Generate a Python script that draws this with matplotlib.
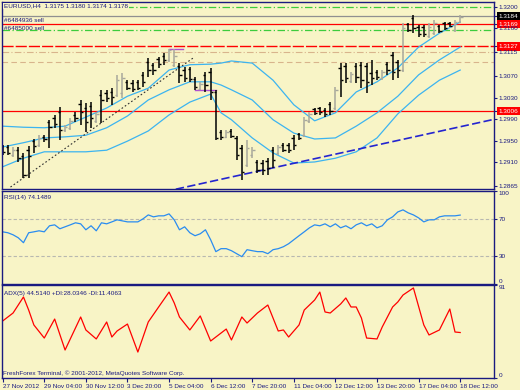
import matplotlib
matplotlib.use("Agg")
import matplotlib.pyplot as plt
import numpy as np

# EURUSD H4, bars from 27 Nov 2012 20:00 to 18 Dec 2012 12:00
opens = [1.2940, 1.2938, 1.2923, 1.2932, 1.2921, 1.2932, 1.2949, 1.2942, 1.2957, 1.2985,
         1.2992, 1.3004, 1.2970, 1.2974, 1.2998, 1.3018, 1.3011, 1.3015, 1.2987, 1.3035,
         1.3039, 1.3041, 1.3035, 1.3039, 1.3060, 1.3058, 1.3060, 1.3073, 1.3097, 1.3092,
         1.3103, 1.3108, 1.3101, 1.3092, 1.3090, 1.3082, 1.3084, 1.3065, 1.3047, 1.3073,
         1.3078, 1.3041, 1.2966, 1.2957, 1.2968, 1.2955, 1.2936, 1.2904, 1.2923, 1.2910,
         1.2908, 1.2912, 1.2932, 1.2927, 1.2942, 1.2942, 1.2955, 1.2962, 1.2960, 1.2987,
         1.3009, 1.3011, 1.3007, 1.3018, 1.3011, 1.3086, 1.3090, 1.3062, 1.3090, 1.3092,
         1.3090, 1.3077, 1.3078, 1.3067, 1.3093, 1.3110, 1.3097, 1.3082, 1.3168, 1.3179,
         1.3163, 1.3163, 1.3146, 1.3151, 1.3164, 1.3170, 1.3170, 1.3157, 1.3172]
highs = [1.2942, 1.2942, 1.2938, 1.2938, 1.2927, 1.2940, 1.2953, 1.2960, 1.2960, 1.2989,
         1.2998, 1.3013, 1.2979, 1.2992, 1.3004, 1.3026, 1.3020, 1.3022, 1.3004, 1.3045,
         1.3045, 1.3048, 1.3073, 1.3077, 1.3063, 1.3063, 1.3063, 1.3078, 1.3105, 1.3095,
         1.3106, 1.3114, 1.3121, 1.3121, 1.3095, 1.3088, 1.3088, 1.3069, 1.3060, 1.3078,
         1.3086, 1.3045, 1.2970, 1.2970, 1.2972, 1.2959, 1.2942, 1.2951, 1.2938, 1.2914,
         1.2914, 1.2917, 1.2938, 1.2942, 1.2946, 1.2946, 1.2960, 1.2964, 1.2994, 1.3004,
         1.3011, 1.3013, 1.3011, 1.3022, 1.3050, 1.3095, 1.3095, 1.3078, 1.3095, 1.3097,
         1.3095, 1.3101, 1.3082, 1.3082, 1.3097, 1.3116, 1.3101, 1.3170, 1.3170, 1.3185,
         1.3166, 1.3166, 1.3170, 1.3176, 1.3166, 1.3172, 1.3172, 1.3176, 1.3185]
lows = [1.2923, 1.2923, 1.2919, 1.2910, 1.2880, 1.2880, 1.2927, 1.2938, 1.2947, 1.2936,
        1.2974, 1.2951, 1.2966, 1.2970, 1.2985, 1.2979, 1.2966, 1.2974, 1.2983, 1.2983,
        1.3022, 1.3017, 1.3032, 1.3030, 1.3045, 1.3041, 1.3045, 1.3050, 1.3069, 1.3073,
        1.3086, 1.3092, 1.3097, 1.3088, 1.3058, 1.3060, 1.3060, 1.3045, 1.3045, 1.3041,
        1.3026, 1.2951, 1.2951, 1.2955, 1.2955, 1.2914, 1.2876, 1.2901, 1.2917, 1.2889,
        1.2886, 1.2886, 1.2899, 1.2923, 1.2929, 1.2927, 1.2932, 1.2951, 1.2957, 1.2983,
        1.2998, 1.2998, 1.2994, 1.2998, 1.3007, 1.3032, 1.3058, 1.3058, 1.3058, 1.3048,
        1.3039, 1.3054, 1.3063, 1.3063, 1.3073, 1.3063, 1.3067, 1.3078, 1.3153, 1.3151,
        1.3144, 1.3144, 1.3142, 1.3148, 1.3151, 1.3157, 1.3163, 1.3153, 1.3170]
closes = [1.2929, 1.2927, 1.2932, 1.2917, 1.2886, 1.2921, 1.2940, 1.2955, 1.2953, 1.2975,
          1.2981, 1.2970, 1.2975, 1.2987, 1.2992, 1.3004, 1.2985, 1.2992, 1.3000, 1.3026,
          1.3030, 1.3032, 1.3063, 1.3067, 1.3048, 1.3047, 1.3048, 1.3060, 1.3082, 1.3082,
          1.3093, 1.3101, 1.3120, 1.3108, 1.3073, 1.3067, 1.3065, 1.3050, 1.3056, 1.3054,
          1.3041, 1.2955, 1.2957, 1.2966, 1.2959, 1.2923, 1.2891, 1.2936, 1.2932, 1.2895,
          1.2895, 1.2899, 1.2914, 1.2938, 1.2932, 1.2932, 1.2942, 1.2955, 1.2989, 1.3000,
          1.3002, 1.3004, 1.3000, 1.3005, 1.3045, 1.3063, 1.3067, 1.3075, 1.3069, 1.3063,
          1.3060, 1.3067, 1.3069, 1.3078, 1.3082, 1.3078, 1.3082, 1.3161, 1.3157, 1.3161,
          1.3150, 1.3150, 1.3163, 1.3170, 1.3155, 1.3161, 1.3164, 1.3172, 1.3181]

# Bollinger bands read at these bars
band_bars = [0, 4, 8, 12, 16, 20, 24, 28, 32, 36, 40, 42, 44, 48, 52, 56, 60, 64, 68, 72, 76, 80, 84, 88]
band_upper = [1.2977, 1.2975, 1.2974, 1.2977, 1.2994, 1.3011, 1.3033, 1.3048, 1.3082, 1.3092, 1.3093, 1.3095,
              1.3099, 1.3095, 1.3063, 1.3017, 1.2987, 1.3002, 1.3041, 1.3060, 1.3086, 1.3125, 1.3151, 1.3172]
band_mid = [1.2938, 1.2946, 1.2955, 1.2957, 1.2960, 1.2974, 1.2996, 1.3026, 1.3045, 1.3060, 1.3060, 1.3054,
            1.3045, 1.3026, 1.2989, 1.2964, 1.2953, 1.2955, 1.2977, 1.3002, 1.3033, 1.3073, 1.3101, 1.3125]
band_lower = [1.2901, 1.2917, 1.2929, 1.2929, 1.2929, 1.2932, 1.2949, 1.2968, 1.2998, 1.3022, 1.3037, 1.3002,
              1.2989, 1.2955, 1.2927, 1.2908, 1.2910, 1.2917, 1.2929, 1.2955, 1.3000, 1.3035, 1.3063, 1.3082]

# drawn objects
dot_trend_bars = [1.5, 36.7]
dot_trend_prices = [1.2863, 1.3105]
blue_trend_bars = [33.3, 94.6]
blue_trend_prices = [1.2859, 1.2990]
marks = [(31.9, 34.7, 1.3121), (36.9, 41.0, 1.3045)]

price_ticks = [1.3200, 1.3184, 1.3169, 1.3160, 1.3127, 1.3115, 1.3070, 1.3030,
               1.3006, 1.2990, 1.2950, 1.2910, 1.2865]

rsi = [56.1, 55.1, 52.9, 49.7, 44.4, 55.1, 56.1, 57.2, 56.1, 62.6,
       63.6, 59.4, 61.5, 63.6, 65.8, 64.7, 58.3, 62.6, 57.2, 65.8,
       64.7, 66.8, 69.0, 67.9, 66.8, 66.8, 66.8, 70.1, 74.3, 72.2,
       73.3, 73.3, 75.4, 69.0, 58.3, 61.5, 55.1, 51.9, 54.0, 58.3,
       47.6, 34.8, 38.0, 38.0, 35.8, 32.6, 29.4, 36.9, 35.8, 34.8,
       34.8, 32.6, 36.9, 38.0, 40.1, 43.3, 47.6, 51.9, 56.1, 60.4,
       63.6, 62.6, 64.7, 61.5, 64.7, 60.4, 62.6, 59.4, 63.6, 65.8,
       62.6, 64.7, 60.4, 62.6, 69.0, 72.2, 77.5, 79.7, 76.5, 74.3,
       71.1, 66.8, 69.0, 69.0, 72.2, 73.3, 73.3, 73.3, 74.1]

adx_bars = [0, 2, 4, 5, 6, 8, 10, 12, 15, 16, 18, 20, 21, 22, 24, 26, 28, 30, 32, 33,
            34, 36, 38, 40, 42, 43, 44, 46, 47, 49, 51, 53, 54, 55, 57, 58, 60, 61, 62, 63,
            65, 66, 67, 68, 69, 70, 72, 73, 75, 76, 77, 79, 81, 82, 84, 86, 87, 88]
adx = [55.8, 63.6, 79.3, 66.5, 51.9, 39.1, 57.7, 27.4, 59.7, 47.0, 38.2, 54.8, 40.1, 46.0, 52.8, 25.4, 54.8, 69.5, 84.1, 73.4,
       59.7, 47.0, 60.7, 36.2, 44.0, 47.9, 37.2, 59.7, 53.8, 63.6, 71.4, 46.0, 47.0, 40.1, 51.9, 66.5, 76.3, 84.1, 64.6, 63.6,
       72.4, 78.3, 69.5, 69.5, 58.7, 39.1, 38.2, 49.9, 69.5, 74.4, 81.2, 88.1, 51.9, 42.1, 47.0, 67.5, 45.0, 44.5]

date_bars = [0, 8, 16, 24, 32, 40, 48, 56, 64, 72, 80, 88]
date_labels = ['27 Nov 2012', '29 Nov 04:00', '30 Nov 12:00', '3 Dec 20:00', '5 Dec 04:00', '6 Dec 12:00',
               '7 Dec 20:00', '11 Dec 04:00', '12 Dec 12:00', '13 Dec 20:00', '17 Dec 04:00', '18 Dec 12:00']

BG = '#f8f4c6'
NAVY = '#1a1a80'
GREY = '#a8a89c'
BAND = '#3cb4f0'
TAN = '#d8b48c'
FS = 4.6
plt.rcParams['font.family'] = ['Liberation Sans', 'DejaVu Sans']

W, H = 520, 390
fig = plt.figure(figsize=(W / 100, H / 100), dpi=100)
fig.patch.set_facecolor(BG)


def pane(top, bottom):
    a = fig.add_axes([2 / W, 1 - bottom / H, 492 / W, (bottom - top) / H])
    a.set_facecolor(BG)
    a.set_xlim(-0.13, 94.5)
    for s in a.spines.values():
        s.set_color(NAVY)
        s.set_linewidth(1)
    a.tick_params(axis='x', bottom=False, labelbottom=False)
    a.yaxis.tick_right()
    a.tick_params(axis='y', direction='out', length=2.5, width=0.8, colors=NAVY, labelsize=FS, pad=1)
    return a


def ftext(x, y, s, **kw):
    fig.text(x / W, 1 - y / H, s, fontsize=FS, color=NAVY, va='center', **kw)


# ---- price pane
ax = pane(2, 189)
ax.set_ylim(1.285939, 1.320936)

ax.axhline(1.3200, color='#3ccc3c', lw=0.9, ls=(0, (6, 2, 1, 2)))
ax.axhline(1.3157, color='#3ccc3c', lw=0.9, ls=(0, (6, 2, 1, 2)))
ax.axhline(1.3184, color='#909090', lw=0.9)
ax.axhline(1.3169, color='red', lw=0.9)
ax.axhline(1.3127, color='red', lw=1.0, ls=(0, (8, 1.5)))
ax.axhline(1.3116, color=TAN, lw=0.8, ls=(0, (6, 2, 1, 2)))
ax.axhline(1.3097, color=TAN, lw=0.8, ls=(0, (5, 3)))
ax.axhline(1.3006, color='red', lw=0.9)

ax.plot(band_bars, band_upper, color=BAND, lw=0.9)
ax.plot(band_bars, band_mid, color=BAND, lw=0.9)
ax.plot(band_bars, band_lower, color=BAND, lw=0.9)

ax.plot(dot_trend_bars, dot_trend_prices, color='#303030', lw=0.8, ls=(0, (1.5, 2)))
ax.plot(blue_trend_bars, blue_trend_prices, color='#2424d0', lw=1.2, ls=(0, (5, 2)))

for x0, x1, p in marks:
    ax.plot([x0, x1], [p, p], color='#b050d0', lw=1.0)

x = np.arange(len(opens))
o, h, l, c = map(np.array, (opens, highs, lows, closes))
cols = np.where(c > o, GREY, 'black')
ax.vlines(x, l, h, colors=cols, lw=1.1)
ax.hlines(o, x - 0.45, x, colors=cols, lw=1.0)
ax.hlines(c, x, x + 0.45, colors=cols, lw=1.0)

ax.set_yticks(price_ticks)
ax.set_yticklabels([f'{p:.4f}' for p in price_ticks])
for lab in ax.get_yticklabels():
    t = lab.get_text()
    if t == '1.3184':
        lab.set_bbox(dict(boxstyle='square,pad=0.25', fc='black', ec='none'))
        lab.set_color('white')
    elif t in ('1.3169', '1.3127', '1.3006'):
        lab.set_bbox(dict(boxstyle='square,pad=0.25', fc='red', ec='none'))
        lab.set_color('white')

ftext(4, 6, 'EURUSD,H4  1.3175 1.3180 1.3174 1.3178',
      bbox=dict(boxstyle='square,pad=0.1', fc=BG, ec='none'))
ftext(4, 20, '#6484936 sell')
ftext(4, 28, '#6485000 sell')

# ---- RSI pane
ax2 = pane(191, 284)
ax2.set_ylim(0, 100)
ax2.axhline(70, color='#b8b8b0', lw=0.8, ls=(0, (3, 2)))
ax2.axhline(30, color='#b8b8b0', lw=0.8, ls=(0, (3, 2)))
ax2.plot(np.arange(len(rsi)), rsi, color='#2a8cf0', lw=0.9)
ax2.set_yticks([100, 70, 30, 0])
labs = ax2.get_yticklabels()
labs[0].set_va('top')
labs[-1].set_va('bottom')
ftext(4, 197, 'RSI(14) 74.1489')

# ---- ADX pane
ax3 = pane(285, 378)
ax3.set_ylim(0, 91)
ax3.plot(adx_bars, adx, color='red', lw=0.9)
ax3.set_yticks([91, 0])
labs = ax3.get_yticklabels()
labs[0].set_va('top')
labs[-1].set_va('bottom')
ax3.set_xticks(date_bars)
ax3.set_xticklabels(date_labels, ha='left')
ax3.tick_params(axis='x', bottom=True, labelbottom=True, direction='out', length=3,
                width=0.8, colors=NAVY, labelsize=FS, pad=1)
ftext(4, 293, 'ADX(5) 44.5140 +DI:28.0346 -DI:11.4063')
ftext(3, 373, 'FreshForex Terminal, \u00a9 2001-2012, MetaQuotes Software Corp.')

fig.savefig('out.png', dpi=100, facecolor=BG)
